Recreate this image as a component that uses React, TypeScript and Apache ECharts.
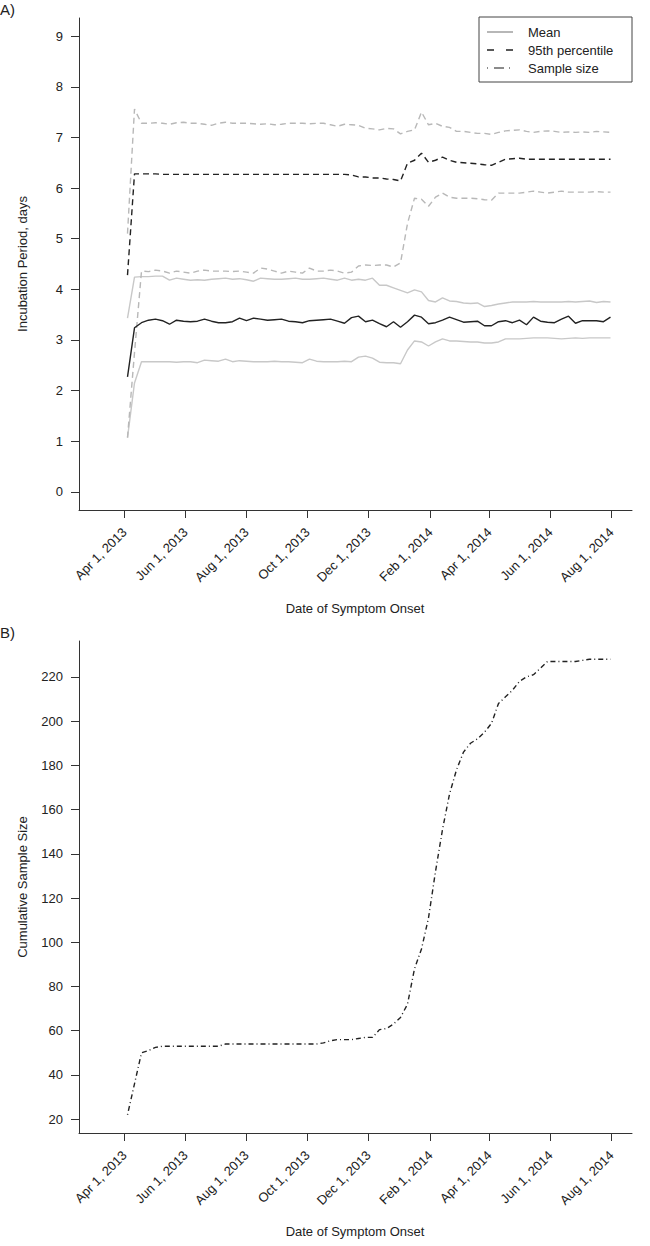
import React, { useEffect, useRef } from "react";
import * as echarts from "echarts";

// ---- data ----
const originDate = "2013-04-01";
const firstWeek = "2013-04-04"; // weekly estimates, one point per week
const tickDates = [
  "2013-04-01", "2013-06-01", "2013-08-01", "2013-10-01", "2013-12-01",
  "2014-02-01", "2014-04-01", "2014-06-01", "2014-08-01",
];
const tickLabels = [
  "Apr 1, 2013", "Jun 1, 2013", "Aug 1, 2013", "Oct 1, 2013", "Dec 1, 2013",
  "Feb 1, 2014", "Apr 1, 2014", "Jun 1, 2014", "Aug 1, 2014",
];
const incubationTicks = [0, 1, 2, 3, 4, 5, 6, 7, 8, 9];
const sampleTicks = [20, 40, 60, 80, 100, 120, 140, 160, 180, 200, 220];
const legendNames = ["Mean", "95th percentile", "Sample size"];

const meanValues = [
  2.27, 3.24, 3.34, 3.39, 3.41, 3.38, 3.31, 3.39, 3.37, 3.36,
  3.37, 3.41, 3.37, 3.34, 3.34, 3.36, 3.43, 3.38, 3.43, 3.41,
  3.39, 3.40, 3.41, 3.37, 3.36, 3.34, 3.38, 3.39, 3.40, 3.41,
  3.37, 3.33, 3.44, 3.47, 3.36, 3.39, 3.32, 3.26, 3.36, 3.25,
  3.36, 3.49, 3.45, 3.32, 3.34, 3.39, 3.45, 3.40, 3.35, 3.36,
  3.37, 3.28, 3.28, 3.36, 3.38, 3.34, 3.39, 3.30, 3.45, 3.37,
  3.35, 3.34, 3.41, 3.47, 3.33, 3.38, 3.38, 3.38, 3.36, 3.45,
];
const meanUpper = [
  3.43, 4.24, 4.25, 4.25, 4.26, 4.26, 4.18, 4.22, 4.20, 4.18,
  4.19, 4.18, 4.20, 4.21, 4.22, 4.20, 4.21, 4.19, 4.16, 4.22,
  4.21, 4.20, 4.20, 4.21, 4.22, 4.20, 4.20, 4.21, 4.22, 4.20,
  4.18, 4.22, 4.18, 4.20, 4.18, 4.22, 4.08, 4.08, 4.03, 3.98,
  3.93, 3.99, 3.95, 3.78, 3.75, 3.83, 3.77, 3.76, 3.73, 3.72,
  3.73, 3.66, 3.68, 3.71, 3.73, 3.75, 3.75, 3.75, 3.76, 3.75,
  3.75, 3.75, 3.75, 3.76, 3.75, 3.76, 3.77, 3.74, 3.76, 3.75,
];
const meanLower = [
  1.07, 2.15, 2.57, 2.57, 2.57, 2.57, 2.57, 2.56, 2.57, 2.57,
  2.55, 2.60, 2.59, 2.58, 2.62, 2.57, 2.59, 2.58, 2.57, 2.57,
  2.57, 2.58, 2.57, 2.57, 2.56, 2.55, 2.62, 2.58, 2.57, 2.57,
  2.57, 2.58, 2.57, 2.66, 2.68, 2.64, 2.56, 2.55, 2.55, 2.53,
  2.80, 2.98, 2.96, 2.88, 2.96, 3.02, 2.98, 2.98, 2.97, 2.96,
  2.96, 2.94, 2.94, 2.96, 3.02, 3.02, 3.02, 3.03, 3.04, 3.04,
  3.04, 3.03, 3.02, 3.03, 3.04, 3.03, 3.04, 3.04, 3.04, 3.04,
];
const p95Values = [
  4.28, 6.28, 6.28, 6.28, 6.28, 6.27, 6.27, 6.27, 6.27, 6.27,
  6.27, 6.27, 6.27, 6.27, 6.27, 6.27, 6.27, 6.27, 6.27, 6.27,
  6.27, 6.27, 6.27, 6.27, 6.27, 6.27, 6.27, 6.27, 6.27, 6.27,
  6.27, 6.27, 6.26, 6.22, 6.22, 6.20, 6.20, 6.18, 6.17, 6.14,
  6.49, 6.55, 6.69, 6.51, 6.55, 6.61, 6.55, 6.51, 6.50, 6.49,
  6.48, 6.46, 6.45, 6.51, 6.57, 6.58, 6.59, 6.57, 6.57, 6.57,
  6.57, 6.57, 6.57, 6.57, 6.57, 6.57, 6.57, 6.57, 6.57, 6.57,
];
const p95Upper = [
  5.10, 7.56, 7.28, 7.28, 7.29, 7.28, 7.26, 7.29, 7.30, 7.28,
  7.28, 7.26, 7.24, 7.28, 7.30, 7.28, 7.28, 7.28, 7.27, 7.26,
  7.27, 7.25, 7.26, 7.28, 7.28, 7.28, 7.27, 7.28, 7.28, 7.25,
  7.22, 7.26, 7.25, 7.24, 7.18, 7.17, 7.15, 7.18, 7.17, 7.07,
  7.12, 7.15, 7.50, 7.25, 7.28, 7.22, 7.20, 7.12, 7.12, 7.10,
  7.08, 7.08, 7.06, 7.10, 7.13, 7.14, 7.15, 7.12, 7.10, 7.12,
  7.13, 7.12, 7.10, 7.11, 7.10, 7.11, 7.10, 7.12, 7.11, 7.10,
];
const p95Lower = [
  1.07, 2.75, 4.36, 4.35, 4.38, 4.36, 4.32, 4.36, 4.34, 4.32,
  4.36, 4.38, 4.36, 4.36, 4.36, 4.35, 4.36, 4.34, 4.32, 4.42,
  4.40, 4.36, 4.32, 4.36, 4.34, 4.32, 4.42, 4.36, 4.36, 4.38,
  4.36, 4.32, 4.34, 4.46, 4.48, 4.47, 4.48, 4.48, 4.44, 4.52,
  5.30, 5.80, 5.78, 5.64, 5.82, 5.90, 5.82, 5.80, 5.80, 5.80,
  5.79, 5.77, 5.76, 5.90, 5.90, 5.90, 5.90, 5.92, 5.94, 5.92,
  5.90, 5.92, 5.94, 5.92, 5.92, 5.92, 5.92, 5.93, 5.92, 5.92,
];
const sampleValues = [
  22, 36, 50, 51, 52.5, 53, 53, 53, 53, 53,
  53, 53, 53, 53, 54, 54, 54, 54, 54, 54,
  54, 54, 54, 54, 54, 54, 54, 54, 54.5, 55.5,
  56, 56, 56, 56.5, 57, 57, 60.5, 61, 63, 66,
  72, 88, 97, 111, 132, 151, 167, 178, 186, 190,
  192, 195, 199, 208, 211, 214, 218, 220, 221, 224,
  227, 227, 227, 227, 227, 227.5, 228, 228, 228, 228,
];

// ---- helpers ----
const DAY = 86400000;
const dayOf = (s: string) =>
  (Date.parse(s + "T00:00:00Z") - Date.parse(originDate + "T00:00:00Z")) / DAY;
const tickDays = tickDates.map(dayOf);
const weekDay = (i: number) => dayOf(firstWeek) + 7 * i;
const pairs = (vals: number[]) => vals.map((v, i) => [weekDay(i), v]);

const FONT = "'Liberation Sans', Arial, Helvetica, sans-serif";
const TEXT = "#222";
const AXIS = "#333";
const LIGHT = "#c8c8c8";
const LIGHT_DASH = "#b8b8b8";
const DARK = "#222";
const DASH = [6, 4];
const DOTDASH = [1, 3, 5, 3];

function xAxisFor(gridIndex: number) {
  return {
    type: "value",
    gridIndex,
    min: -45.5,
    max: 507.5,
    axisLine: { show: true, onZero: false, lineStyle: { color: AXIS, width: 1 } },
    axisTick: { show: true, length: 8, customValues: tickDays, lineStyle: { color: AXIS } },
    axisLabel: {
      customValues: tickDays,
      rotate: 45,
      margin: 20,
      fontSize: 13,
      fontFamily: FONT,
      color: TEXT,
      formatter: (v: number) => {
        const k = tickDays.indexOf(v);
        return k >= 0 ? tickLabels[k] : "";
      },
    },
    splitLine: { show: false },
  };
}

function yAxisFor(gridIndex: number, min: number, max: number, ticks: number[]) {
  return {
    type: "value",
    gridIndex,
    min,
    max,
    axisLine: { show: true, onZero: false, lineStyle: { color: AXIS, width: 1 } },
    axisTick: { show: true, length: 8, customValues: ticks, lineStyle: { color: AXIS } },
    axisLabel: {
      customValues: ticks,
      margin: 16,
      fontSize: 13,
      fontFamily: FONT,
      color: TEXT,
    },
    splitLine: { show: false },
  };
}

function lineSeries(name: string, data: number[], color: string, type: any, idx: number, z: number) {
  return {
    name,
    type: "line",
    xAxisIndex: idx,
    yAxisIndex: idx,
    data: pairs(data),
    symbol: "none",
    z,
    lineStyle: { color, width: 1.4, type },
    itemStyle: { color },
    emphasis: { disabled: true },
  };
}

function legendGraphics() {
  const x0 = 479, y0 = 17, w = 153, h = 65;
  const rows = [32, 50, 68];
  const samples = [
    { stroke: "#999", lineDash: null as any },
    { stroke: "#222", lineDash: [7, 12] },
    { stroke: "#666", lineDash: [1, 6, 10, 5, 1, 30] },
  ];
  const els: any[] = [
    { type: "rect", shape: { x: x0, y: y0, width: w, height: h }, style: { fill: "#fff", stroke: "#444", lineWidth: 1 }, z: 10 },
  ];
  rows.forEach((y, k) => {
    els.push({
      type: "line",
      shape: { x1: 487, y1: y, x2: 513, y2: y },
      style: { stroke: samples[k].stroke, lineWidth: 1.4, lineDash: samples[k].lineDash },
      z: 11,
    });
    els.push({
      type: "text",
      x: 528,
      y,
      style: { text: legendNames[k], fontSize: 13, fontFamily: FONT, fill: TEXT, verticalAlign: "middle" },
      z: 11,
    });
  });
  return els;
}

export default function App() {
  const ref = useRef<HTMLDivElement>(null);
  useEffect(() => {
    document.body.style.margin = "0";
    if (!ref.current) return;
    const chart = echarts.init(ref.current, undefined, { renderer: "svg" });
    const option: any = {
      animation: false,
      backgroundColor: "#fff",
      textStyle: { fontFamily: FONT },
      grid: [
        { left: 79, top: 18, width: 553, height: 492 },
        { left: 79, top: 641, width: 553, height: 492 },
      ],
      xAxis: [xAxisFor(0), xAxisFor(1)],
      yAxis: [
        yAxisFor(0, -0.36, 9.36, incubationTicks),
        yAxisFor(1, 13.76, 236.24, sampleTicks),
      ],
      graphic: [
        { type: "text", left: 0, top: 2, style: { text: "A)", fontSize: 15, fontFamily: FONT, fill: TEXT } },
        { type: "text", left: 0, top: 625, style: { text: "B)", fontSize: 15, fontFamily: FONT, fill: TEXT } },
        {
          type: "text", x: 355, y: 608,
          style: { text: "Date of Symptom Onset", fontSize: 13, fontFamily: FONT, fill: TEXT, align: "center", verticalAlign: "middle" },
        },
        {
          type: "text", x: 355, y: 1231,
          style: { text: "Date of Symptom Onset", fontSize: 13, fontFamily: FONT, fill: TEXT, align: "center", verticalAlign: "middle" },
        },
        {
          type: "text", x: 22, y: 264, rotation: Math.PI / 2,
          style: { text: "Incubation Period, days", fontSize: 13, fontFamily: FONT, fill: TEXT, align: "center", verticalAlign: "middle" },
        },
        {
          type: "text", x: 22, y: 887, rotation: Math.PI / 2,
          style: { text: "Cumulative Sample Size", fontSize: 13, fontFamily: FONT, fill: TEXT, align: "center", verticalAlign: "middle" },
        },
        ...legendGraphics(),
      ],
      series: [
        lineSeries("Mean upper CI", meanUpper, LIGHT, "solid", 0, 2),
        lineSeries("Mean lower CI", meanLower, LIGHT, "solid", 0, 2),
        lineSeries("95th upper CI", p95Upper, LIGHT_DASH, DASH, 0, 2),
        lineSeries("95th lower CI", p95Lower, LIGHT_DASH, DASH, 0, 2),
        lineSeries("Mean", meanValues, DARK, "solid", 0, 3),
        lineSeries("95th percentile", p95Values, DARK, DASH, 0, 3),
        lineSeries("Sample size", sampleValues, DARK, DOTDASH, 1, 3),
      ],
    };
    chart.setOption(option);
    return () => chart.dispose();
  }, []);
  return <div ref={ref} style={{ width: 650, height: 1246 }} />;
}
